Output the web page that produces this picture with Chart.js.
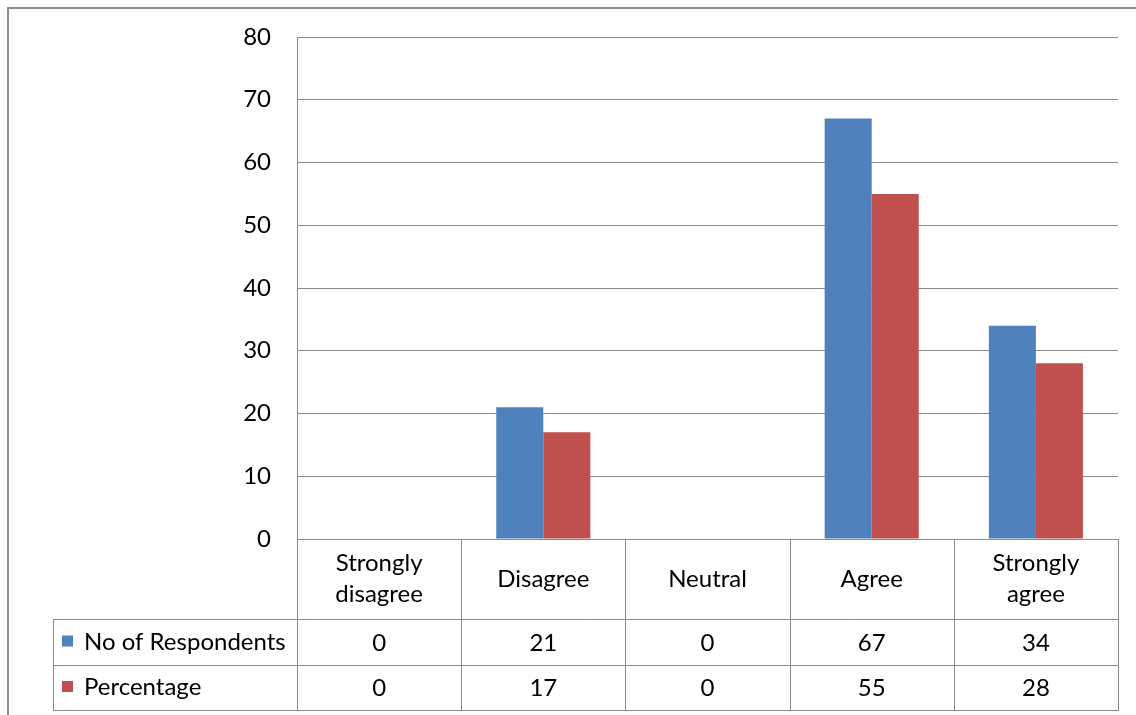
<!DOCTYPE html>
<html>
<head>
<meta charset="utf-8">
<script src="https://cdn.jsdelivr.net/npm/chart.js@4/dist/chart.umd.min.js"></script>
<style>
  html, body { margin: 0; padding: 0; background: #fff; }
  #wrap { width: 1136px; height: 715px; position: relative; }
</style>
</head>
<body>
<div id="wrap"><canvas id="c" width="1136" height="715"></canvas></div>
<script>
// Survey responses per category
const categories = [['Strongly', 'disagree'], 'Disagree', 'Neutral', 'Agree', ['Strongly', 'agree']];
const seriesNames = ['No of Respondents', 'Percentage'];
const respondents = [0, 21, 0, 67, 34];
const percentage = [0, 17, 0, 55, 28];
const yMin = 0, yMax = 80, yStep = 10;

const seriesValues = [respondents, percentage];
const seriesColors = ['#4F81BD', '#C0504D'];
const FONT = 'Lato, "Open Sans", sans-serif';
const FONT_SIZE = 24;
const LINE = '#8a8a8a';

// Frame, data table and legend keys drawn under the x axis
const dataTablePlugin = {
  id: 'dataTable',
  beforeDraw(chart) {
    const ctx = chart.ctx;
    ctx.save();
    ctx.fillStyle = '#fff';
    ctx.fillRect(0, 0, chart.width, chart.height);
    // outer frame
    ctx.strokeStyle = '#8c8c8c';
    ctx.lineWidth = 2;
    ctx.beginPath();
    ctx.moveTo(8, chart.height);
    ctx.lineTo(8, 8);
    ctx.lineTo(chart.width, 8);
    ctx.stroke();
    ctx.restore();
  },
  afterDraw(chart) {
    const ctx = chart.ctx;
    const x = chart.scales.x;
    const area = chart.chartArea;
    const n = categories.length;
    const colW = (area.right - area.left) / n;
    const top = area.bottom;
    const rowCat = top + 80;
    const rowA = rowCat + 46;
    const rowB = rowA + 45;
    const keyLeft = 53;

    ctx.save();
    ctx.strokeStyle = LINE;
    ctx.lineWidth = 1;
    const h = (x0, x1, y) => { ctx.beginPath(); ctx.moveTo(x0, Math.round(y) + 0.5); ctx.lineTo(x1, Math.round(y) + 0.5); ctx.stroke(); };
    const v = (xx, y0, y1) => { ctx.beginPath(); ctx.moveTo(Math.round(xx) + 0.5, y0); ctx.lineTo(Math.round(xx) + 0.5, y1); ctx.stroke(); };

    h(area.left, area.right, top);
    h(keyLeft, area.right, rowCat);
    h(keyLeft, area.right, rowA);
    h(keyLeft, area.right, rowB);
    v(keyLeft, rowCat, rowB + 1);
    for (let i = 0; i <= n; i++) {
      v(area.left + colW * i, top, rowB + 1);
    }

    ctx.fillStyle = '#000';
    ctx.font = FONT_SIZE + 'px ' + FONT;
    ctx.textAlign = 'center';
    ctx.textBaseline = 'middle';
    categories.forEach((c, i) => {
      const cx = x.getPixelForValue(i);
      const lines = Array.isArray(c) ? c : [c];
      const lh = 31;
      const mid = (top + rowCat) / 2;
      lines.forEach((t, k) => {
        ctx.fillText(t, cx, mid + (k - (lines.length - 1) / 2) * lh);
      });
      ctx.fillText(String(respondents[i]), cx, (rowCat + rowA) / 2 + 1);
      ctx.fillText(String(percentage[i]), cx, (rowA + rowB) / 2 + 1);
    });

    // series keys
    ctx.textAlign = 'left';
    seriesNames.forEach((name, k) => {
      const y0 = k === 0 ? rowCat : rowA;
      const y1 = k === 0 ? rowA : rowB;
      const cy = (y0 + y1) / 2 - 1;
      ctx.fillStyle = seriesColors[k];
      ctx.fillRect(62, cy - 5.5, 11, 11);
      ctx.fillStyle = '#000';
      ctx.fillText(name, 84, cy + 1);
    });
    ctx.restore();
  }
};

new Chart(document.getElementById('c'), {
  type: 'bar',
  data: {
    labels: categories.map(c => Array.isArray(c) ? c.join(' ') : c),
    datasets: seriesNames.map((name, k) => ({
      label: name,
      data: seriesValues[k],
      backgroundColor: seriesColors[k],
      borderWidth: 0,
      categoryPercentage: 0.573,
      barPercentage: 1.0
    }))
  },
  options: {
    responsive: false,
    animation: false,
    events: [],
    layout: { padding: { left: 0, top: 37, right: 18, bottom: 0 } },
    plugins: {
      legend: { display: false },
      tooltip: { enabled: false },
      title: { display: false }
    },
    scales: {
      x: {
        grid: { display: false, drawTicks: false },
        border: { display: false },
        ticks: { display: false },
        afterFit(scale) { scale.height = 715 - 539; }
      },
      y: {
        min: yMin,
        max: yMax,
        grid: { color: LINE, lineWidth: 1, drawTicks: false },
        border: { display: true, color: LINE, width: 1 },
        ticks: {
          stepSize: yStep,
          padding: 26,
          color: '#000',
          font: { family: FONT, size: FONT_SIZE }
        },
        afterFit(scale) {
          scale.width = 297;
          scale.paddingTop = 0;
          scale.paddingBottom = 0;
        }
      }
    }
  },
  plugins: [dataTablePlugin]
});
</script>
</body>
</html>
